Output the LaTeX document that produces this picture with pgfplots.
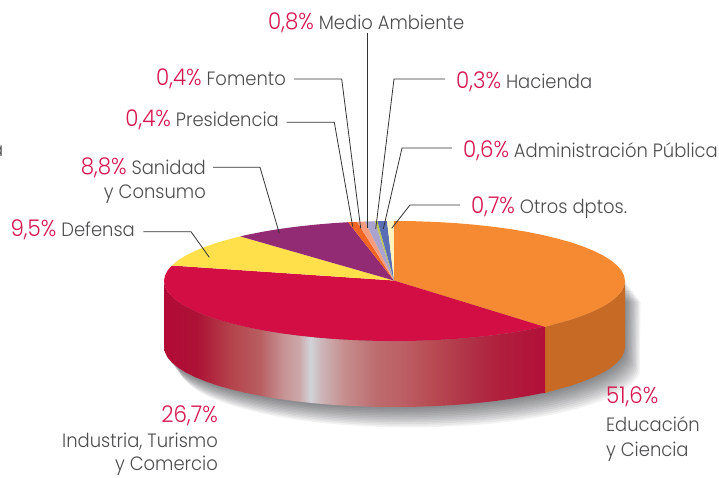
\documentclass[border=0pt]{standalone}
\usepackage{fontspec}
\setmainfont{Poppins}[UprightFont=* Light,FakeStretch=.93]
\usepackage{pgfplots}
\usepackage{pgfplotstable}
\pgfplotsset{compat=1.18}
\definecolor{crim}{HTML}{D6154F}
\definecolor{txt}{HTML}{4D4D4F}
\definecolor{lead}{HTML}{333333}
\definecolor{shad}{HTML}{14161C}
\pgfdeclarehorizontalshading{wall}{100bp}{
rgb(0bp)=(.70,.04,.21); rgb(25bp)=(.70,.04,.21); rgb(29.3bp)=(.68,.07,.21); rgb(34bp)=(.71,.27,.30);
rgb(37.6bp)=(.72,.37,.38); rgb(40.6bp)=(.78,.57,.58); rgb(42.8bp)=(.80,.66,.67); rgb(44.2bp)=(.82,.83,.85);
rgb(45.5bp)=(.80,.72,.73); rgb(48.5bp)=(.78,.56,.56); rgb(52.9bp)=(.74,.42,.43); rgb(56bp)=(.74,.38,.40);
rgb(60.3bp)=(.72,.29,.32); rgb(64.8bp)=(.69,.20,.28); rgb(69.1bp)=(.69,.12,.24); rgb(75bp)=(.70,.06,.22); rgb(100bp)=(.70,.06,.22)}
\pgfplotstableread{
x y
625.0 281
624.1 352.2
621.5 357.4
617.1 362.5
611.1 367.5
603.4 372.4
594.1 377
583.3 381.4
571.1 385.6
557.5 389.4
542.7 393
526.7 396.2
509.8 399
491.9 401.4
473.3 403.4
454.2 405
434.5 406.1
414.6 406.8
394.5 407
374.4 406.8
354.5 406.1
334.8 405
315.7 403.4
297.1 401.4
279.2 399
262.3 396.2
246.3 393
231.5 389.4
217.9 385.6
205.7 381.4
194.9 377
185.6 372.4
177.9 367.5
171.9 362.5
167.5 357.4
164.9 352.2
164.0 347
164.0 281
}\hull
\newcommand{\pc}[1]{{\color{crim}\fontsize{23}{24}\selectfont #1}}
\newcommand{\lab}[4]{\node[anchor=#1,inner sep=0pt,text=txt] at (axis cs:#2,#3) {\fontsize{19.3}{24}\selectfont #4};}
\begin{document}
\begin{tikzpicture}
\begin{axis}[scale only axis,width=719pt,height=477pt,xmin=0,xmax=719,ymin=0,ymax=477,y dir=reverse,axis lines=none,clip=false,no marks]
\addplot[draw=none] coordinates {(0,0)(719,477)};
% shadow
\pgfplotsinvokeforeach{1,...,12}{
\addplot[draw=none,fill=shad,fill opacity=.055] table[x expr=\thisrow{x}+#1*1.3,y expr=\thisrow{y}+#1*1.7] {\hull};
}
% side walls
\addplot[draw=none,fill={rgb,255:red,198;green,106;blue,38}] coordinates {
(545,327)(557.5,323.4)(571.1,319.6)(583.3,315.4)(594.1,311)(603.4,306.4)(611.1,301.5)(617.1,296.5)(621.5,291.4)(624.1,286.2)(625,281)
(625,347)(624.1,352.2)(621.5,357.4)(617.1,362.5)(611.1,367.5)(603.4,372.4)(594.1,377)(583.3,381.4)(571.1,385.6)(557.5,389.4)(545,393)};
\addplot[draw=none,shading=wall] coordinates {
(545,327)(542.7,327)(526.7,330.2)(509.8,333)(491.9,335.4)(473.3,337.4)(454.2,339)(434.5,340.1)(414.6,340.8)(394.5,341)(374.4,340.8)(354.5,340.1)(334.8,339)(315.7,337.4)(297.1,335.4)(279.2,333)(262.3,330.2)(246.3,327)(231.5,323.4)(217.9,319.6)(205.7,315.4)(194.9,311)(185.6,306.4)(177.9,301.5)(171.9,296.5)(167.5,291.4)(164.9,286.2)(164,281)
(164,347)(164.9,352.2)(167.5,357.4)(171.9,362.5)(177.9,367.5)(185.6,372.4)(194.9,377)(205.7,381.4)(217.9,385.6)(231.5,389.4)(246.3,393)(262.3,396.2)(279.2,399)(297.1,401.4)(315.7,403.4)(334.8,405)(354.5,406.1)(374.4,406.8)(394.5,407)(414.6,406.8)(434.5,406.1)(454.2,405)(473.3,403.4)(491.9,401.4)(509.8,399)(526.7,396.2)(542.7,393)(545,393)};
% top slices
\addplot[draw=none,fill={rgb,255:red,245;green,138;blue,50}] coordinates {
(394,280.5)(393.5,221)(414.6,221.2)(434.5,221.9)(454.2,223)(473.3,224.6)(491.9,226.6)(509.8,229)(526.7,231.8)(542.7,235)(557.5,238.6)(571.1,242.4)(583.3,246.6)(594.1,251)(603.4,255.6)(611.1,260.5)(617.1,265.5)(621.5,270.6)(624.1,275.8)(625,281)(624.1,286.2)(621.5,291.4)(617.1,296.5)(611.1,301.5)(603.4,306.4)(594.1,311)(583.3,315.4)(571.1,319.6)(557.5,323.4)(545,327)};
\addplot[draw=none,fill={rgb,255:red,210;green,14;blue,68}] coordinates {
(394,280.5)(545,327)(542.7,327)(526.7,330.2)(509.8,333)(491.9,335.4)(473.3,337.4)(454.2,339)(434.5,340.1)(414.6,340.8)(394.5,341)(374.4,340.8)(354.5,340.1)(334.8,339)(315.7,337.4)(297.1,335.4)(279.2,333)(262.3,330.2)(246.3,327)(231.5,323.4)(217.9,319.6)(205.7,315.4)(194.9,311)(185.6,306.4)(177.9,301.5)(171.9,296.5)(167.5,291.4)(164.9,286.2)(164,281)(164.9,275.8)(167.5,270.6)(171.9,265.5)};
\addplot[draw=none,fill={rgb,255:red,255;green,224;blue,75}] coordinates {
(394,280.5)(171.9,265.5)(177.9,260.5)(185.6,255.6)(194.9,251)(205.7,246.6)(217.9,242.4)(231.5,238.6)(240.3,236.4)};
\addplot[draw=none,fill={rgb,255:red,146;green,43;blue,115}] coordinates {
(394,280.5)(240.3,236.4)(246.3,235)(262.3,231.8)(279.2,229)(297.1,226.6)(315.7,224.6)(334.8,223)(348,222.2)};
\addplot[draw=none,fill={rgb,255:red,242;green,101;blue,34}] coordinates {(394,280.5)(348,222.2)(357,221.8)};
\addplot[draw=none,fill={rgb,255:red,247;green,157;blue,127}] coordinates {(394,280.5)(357,221.8)(365,221.5)};
\addplot[draw=none,fill={rgb,255:red,169;green,163;blue,205}] coordinates {(394,280.5)(365,221.5)(375,221.2)};
\addplot[draw=none,fill={rgb,255:red,190;green,199;blue,75}] coordinates {(394,280.5)(375,221.2)(377.5,221.2)};
\addplot[draw=none,fill={rgb,255:red,91;green,109;blue,181}] coordinates {(394,280.5)(377.5,221.2)(387,221)};
\addplot[draw=none,fill={rgb,255:red,255;green,243;blue,190}] coordinates {(394,280.5)(387,221)(393.5,221)};
% leaders
\addplot[lead,line width=.8pt] coordinates {(143.3,231.7)(191,231.7)(209.3,257.3)};
\addplot[lead,line width=.8pt] coordinates {(213,167.3)(260,167.3)(279.3,233.3)};
\addplot[lead,line width=.8pt] coordinates {(286.7,122.3)(334.3,122.3)(352.7,226.7)};
\addplot[lead,line width=.8pt] coordinates {(294,79)(341.7,79)(360.7,228.3)};
\addplot[lead,line width=.8pt] coordinates {(367.7,33)(367.7,228)};
\addplot[lead,line width=.8pt] coordinates {(445,79)(394,79)(375.7,229)};
\addplot[lead,line width=.8pt] coordinates {(452,148)(402,148)(383.3,229)};
\addplot[lead,line width=.8pt] coordinates {(460,205)(410,205)(391.7,228.3)};
% labels
\lab{base west}{268}{29}{\pc{0,8\%} Medio Ambiente}
\lab{base east}{286}{85}{\pc{0,4\%} Fomento}
\lab{base east}{279}{126}{\pc{0,4\%} Presidencia}
\lab{base east}{206}{174}{\pc{8,8\%} Sanidad}
\lab{base east}{206}{198}{y Consumo}
\lab{base east}{135}{236}{\pc{9,5\%} Defensa}
\lab{base west}{456}{88}{\pc{0,3\%} Hacienda}
\lab{base west}{463}{157}{\pc{0,6\%} Administración Pública}
\lab{base west}{471}{213}{\pc{0,7\%} Otros dptos.}
\lab{base west}{606}{403}{\pc{51,6\%}}
\lab{base west}{606}{431}{Educación}
\lab{base west}{606}{456}{y Ciencia}
\lab{base east}{218}{422}{\pc{26,7\%}}
\lab{base east}{218}{447}{Industria, Turismo}
\lab{base east}{218}{470.5}{y Comercio}
\node[anchor=base east,inner sep=0pt,text=txt,overlay] at (axis cs:3.5,156) {\fontsize{19.3}{24}\selectfont a};
\end{axis}
\end{tikzpicture}
\end{document}
